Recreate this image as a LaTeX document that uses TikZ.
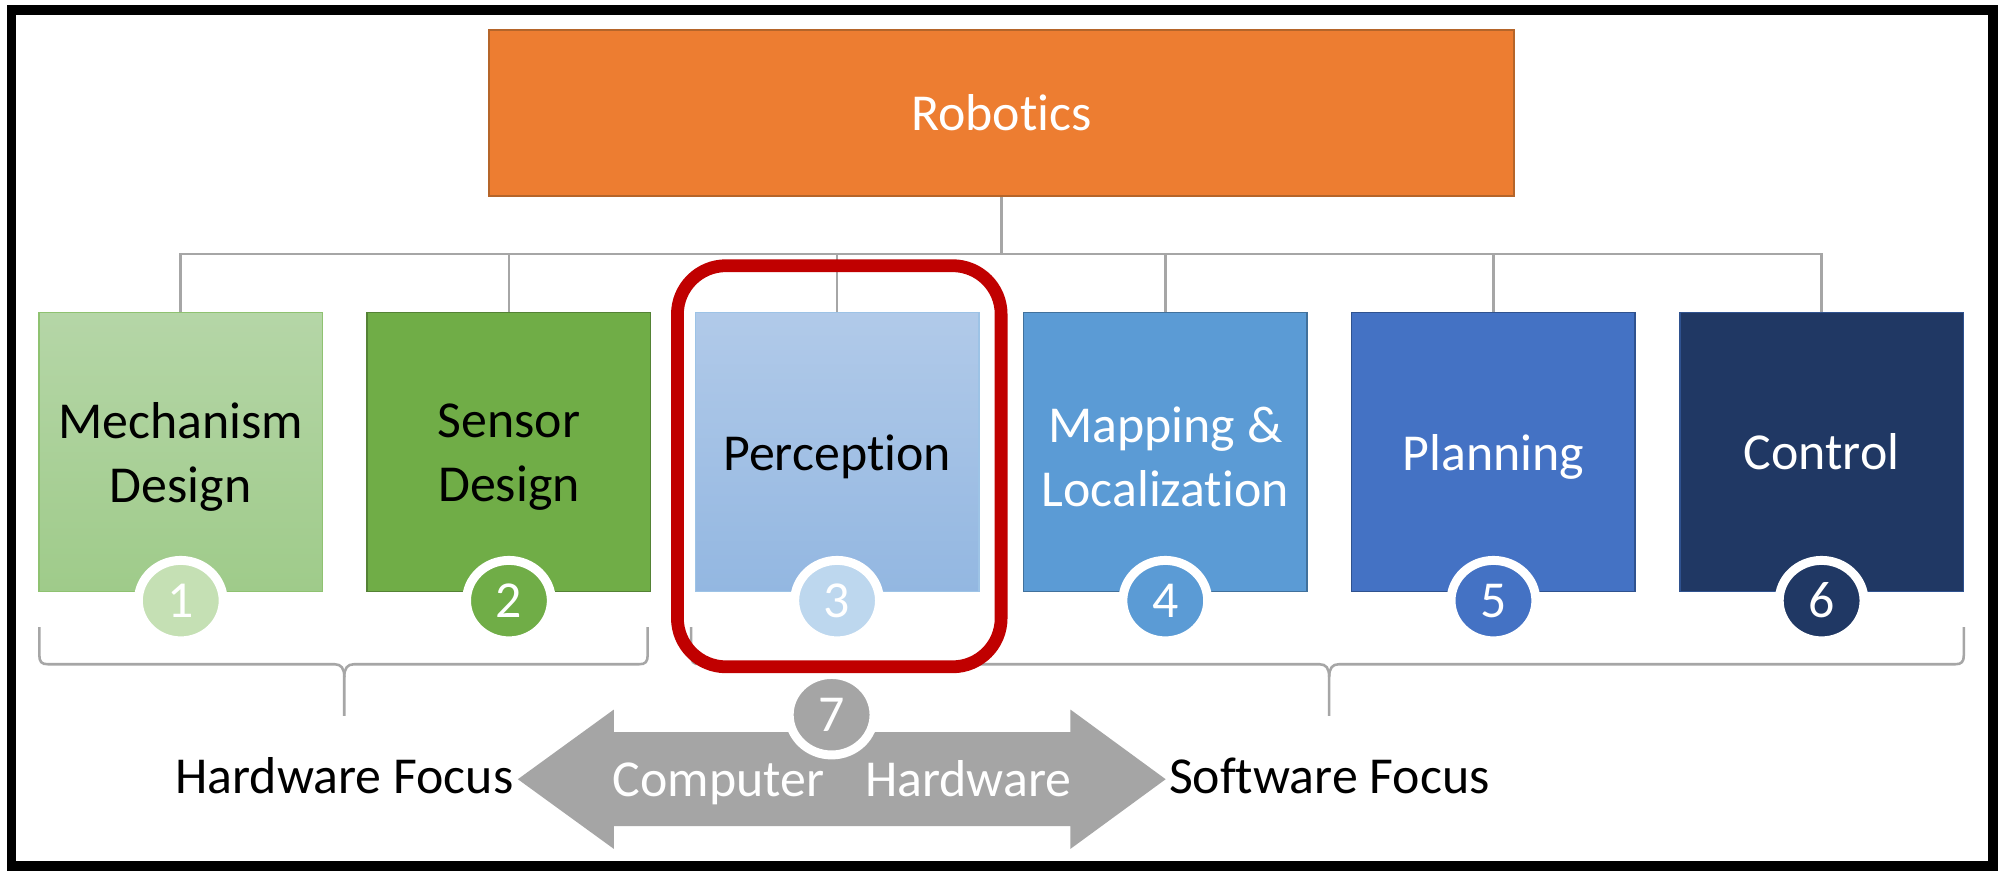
\documentclass[tikz,border=0pt]{standalone}
\usepackage{fontspec}
\setmainfont{Carlito}[Ligatures=NoCommon]
\usetikzlibrary{shapes.geometric}
\definecolor{orangeF}{HTML}{ED7D31}
\definecolor{orangeD}{HTML}{B5652A}
\definecolor{grayL}{HTML}{A6A6A6}
\definecolor{arrowG}{HTML}{A5A5A5}
\definecolor{gAt}{HTML}{B5D6A7}
\definecolor{gAb}{HTML}{9FCB8A}
\definecolor{gAd}{HTML}{8FC271}
\definecolor{gAc}{HTML}{C5E0B4}
\definecolor{gB}{HTML}{70AD47}
\definecolor{gBd}{HTML}{548235}
\definecolor{bCt}{HTML}{B1CAE9}
\definecolor{bCb}{HTML}{93B7E1}
\definecolor{bCd}{HTML}{9DC3E6}
\definecolor{bCc}{HTML}{BDD7EE}
\definecolor{bD}{HTML}{5B9BD5}
\definecolor{bDd}{HTML}{41719C}
\definecolor{bE}{HTML}{4472C4}
\definecolor{bEd}{HTML}{2F528F}
\definecolor{bF}{HTML}{203864}
\definecolor{bFd}{HTML}{2F528F}
\definecolor{redF}{HTML}{C00000}
\tikzset{
  txt/.style={font=\fontsize{20.3}{25}\selectfont, align=center},
  cat/.style={rectangle, minimum width=111pt, minimum height=109.25pt, inner sep=0pt, outer sep=0pt, line width=0.6pt},
  cattext/.style={txt, inner sep=0pt, yshift=-2pt},
  num/.style={ellipse, minimum width=33.2pt, minimum height=31.5pt, inner sep=0pt, draw=white, line width=3.5pt, text=white, font=\fontsize{20.3}{25}\selectfont},
  conn/.style={draw=grayL, line width=1pt},
  brace/.style={draw=grayL, line width=1pt},
}
\begin{document}
\begin{tikzpicture}[x=0.5pt,y=-0.5pt]
\fill[white] (0,0) rectangle (1568,683);
\useasboundingbox (0,0) rectangle (1568,683);

% root
\node[txt, fill=orangeF, draw=orangeD, line width=0.6pt, minimum width=401pt, minimum height=65pt, inner sep=0pt, text=white] (rob) at (784,88.5) {Robotics};

% categories
\node[cat, top color=gAt, bottom color=gAb, draw=gAd,
  label={[name=t1, cattext]center:{Mechanism\\Design}}] (b1) at (141.5,353.75) {};
\node[cat, fill=gB, draw=gBd,
  label={[name=t2, cattext]center:{Sensor\\Design}}] (b2) at (398.4,353.75) {};
\node[cat, top color=bCt, bottom color=bCb, draw=bCd,
  label={[name=t3, cattext]center:{Perception}}] (b3) at (655.3,353.75) {};
\node[cat, fill=bD, draw=bDd,
  label={[name=t4, cattext, text=white]center:{Mapping \&\\Localization}}] (b4) at (912.2,353.75) {};
\node[cat, fill=bE, draw=bEd,
  label={[name=t5, cattext, text=white]center:{Planning}}] (b5) at (1169.1,353.75) {};
\node[cat, fill=bF, draw=bFd,
  label={[name=t6, cattext, text=white, text depth=4.2pt]center:{Control}}] (b6) at (1426,353.75) {};

% connectors
\coordinate (bus) at (784,199);
\draw[conn] (rob.south) -- (bus);
\foreach \b in {b1,b2,b3,b4,b5,b6} \draw[conn] (\b.north) |- (bus);

% number badges
\node[num, fill=gAc] (n1) at (141.5,470.2) {1};
\node[num, fill=gB] (n2) at (398.4,470.2) {2};
\node[num, fill=bCc] (n3) at (655.3,470.2) {3};
\node[num, fill=bD] (n4) at (912.2,470.2) {4};
\node[num, fill=bE] (n5) at (1169.1,470.2) {5};
\node[num, fill=bF] (n6) at (1426,470.2) {6};

% braces
\coordinate (hwtip) at (269.5,560.5);
\coordinate (swtip) at (1040.5,560.5);
\draw[brace] (30.8,491) -- (30.8,513) .. controls (30.8,518) and (32.5,520) .. (37.5,520) -- (262,520) .. controls (267,520) and (269.5,523) .. (269.5,530) -- (hwtip);
\draw[brace] (507,491) -- (507,513) .. controls (507,518) and (505.3,520) .. (500.3,520) -- (277,520) .. controls (272,520) and (269.5,523) .. (269.5,530);
\draw[brace] (541,491) -- (541,513) .. controls (541,518) and (542.7,520) .. (547.7,520) -- (1033,520) .. controls (1038,520) and (1040.5,523) .. (1040.5,530) -- (swtip);
\draw[brace] (1537.3,491) -- (1537.3,513) .. controls (1537.3,518) and (1535.6,520) .. (1530.6,520) -- (1048,520) .. controls (1043,520) and (1040.5,523) .. (1040.5,530);

% double arrow
\fill[arrowG] (405.4,610) -- (480.5,555.5) -- (480.5,573.2) -- (838,573.2) -- (838,555.5) -- (912.5,610)
  -- (838,664.5) -- (838,646.8) -- (480.5,646.8) -- (480.5,664.5) -- cycle;
\node[num, fill=arrowG] (n7) at (651,559.5) {7};
\node[txt, anchor=base, text=white, inner sep=0pt] (cmp) at (562.5,623.5) {Computer};
\node[txt, anchor=base, text=white, inner sep=0pt] (hwr) at (758,623.5) {Hardware};

% highlight
\draw[redF, line width=5pt, rounded corners=19pt] (530.3,208) rectangle (783.7,522);

% focus labels
\node[txt, anchor=base, inner sep=0pt] (hf) at (269.6,621) {Hardware Focus};
\node[txt, anchor=base, inner sep=0pt] (sf) at (1040.6,621) {Software Focus};

% frame
\draw[line width=3.75pt] (8.9,7.8) rectangle (1560,677.7);
\end{tikzpicture}
\end{document}
